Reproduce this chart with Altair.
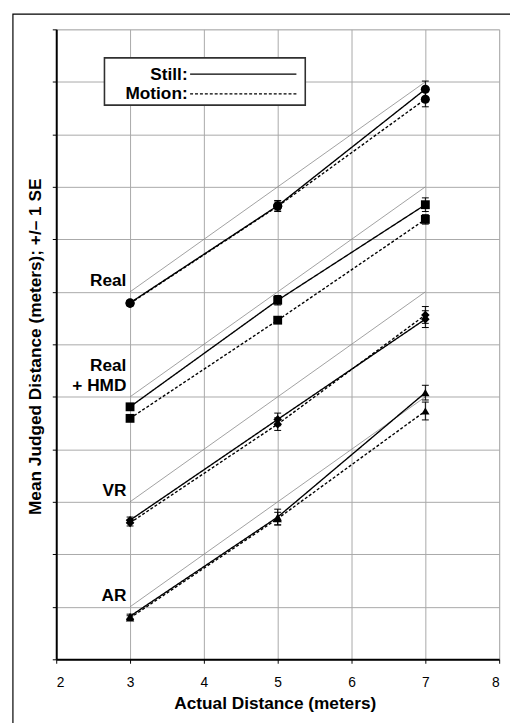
import altair as alt
import pandas as pd

# ---------------- data ----------------
environments = ["Real", "Real + HMD", "VR", "AR"]
group_offsets = [4, 2, 0, -2]          # vertical shift of each environment's set of lines (m)
actual_distances = [3, 5, 7]
conditions = ["Still", "Motion"]

real_still = [2.79, 4.64, 6.86]
real_motion = [2.78, 4.63, 6.67]
hmd_still = [2.81, 4.84, 6.66]
hmd_motion = [2.59, 4.46, 6.38]
vr_still = [2.65, 4.57, 6.48]
vr_motion = [2.60, 4.48, 6.56]
ar_still = [2.82, 4.71, 7.08]
ar_motion = [2.79, 4.68, 6.73]

real_still_se = [0.05, 0.10, 0.155]
real_motion_se = [0.05, 0.10, 0.145]
hmd_still_se = [0.05, 0.09, 0.13]
hmd_motion_se = [0.05, 0.06, 0.09]
vr_still_se = [0.06, 0.12, 0.16]
vr_motion_se = [0.06, 0.12, 0.16]
ar_still_se = [0.04, 0.15, 0.14]
ar_motion_se = [0.04, 0.12, 0.17]

group_labels = [["Real"], ["Real", "+ HMD"], ["VR"], ["AR"]]

means = {
    "Still": [real_still, hmd_still, vr_still, ar_still],
    "Motion": [real_motion, hmd_motion, vr_motion, ar_motion],
}
ses = {
    "Still": [real_still_se, hmd_still_se, vr_still_se, ar_still_se],
    "Motion": [real_motion_se, hmd_motion_se, vr_motion_se, ar_motion_se],
}

rows = []
for gi, (env, off) in enumerate(zip(environments, group_offsets)):
    for cond in conditions:
        for i, xv in enumerate(actual_distances):
            m = means[cond][gi][i]
            s = ses[cond][gi][i]
            rows.append({"env": env, "cond": cond, "x": xv,
                         "y": m + off, "lo": m - s + off, "hi": m + s + off})
df = pd.DataFrame(rows)

ref_rows = []
for env, off in zip(environments, group_offsets):
    for xv in (actual_distances[0], actual_distances[-1]):
        ref_rows.append({"env": env, "x": xv, "y": xv + off})
ref_df = pd.DataFrame(ref_rows)

lab_rows = []
for lines, off in zip(group_labels, group_offsets):
    n = len(lines)
    for k, t in enumerate(lines):
        lab_rows.append({"text": t, "x": 2.95,
                         "y": off + 3 + 0.12 + 0.375 * (n - 1 - k)})
lab_df = pd.DataFrame(lab_rows)

FONT = "Liberation Sans"
BOLD = 17.5


def X(field="x"):
    return alt.X(f"{field}:Q",
                 scale=alt.Scale(domain=[2, 8], nice=False, zero=False),
                 axis=alt.Axis(values=[2, 3, 4, 5, 6, 7, 8], title="Actual Distance (meters)",
                               format="d", grid=True, gridColor="#a8a8a8", gridWidth=1,
                               domainColor="black", domainWidth=2,
                               tickColor="black", tickSize=4, tickWidth=1,
                               labelFont=FONT, labelFontSize=14, labelColor="black",
                               labelPadding=13,
                               titleFont=FONT, titleFontSize=BOLD, titleFontWeight="bold",
                               titleColor="black", titleBaseline="alphabetic",
                               titleY=50, titleX=222))


def Y(field="y"):
    return alt.Y(f"{field}:Q",
                 scale=alt.Scale(domain=[0, 12], nice=False, zero=False),
                 axis=alt.Axis(values=list(range(13)), labels=False,
                               title="Mean Judged Distance (meters); +/\u2013 1 SE",
                               grid=True, gridColor="#a8a8a8", gridWidth=1,
                               domainColor="black", domainWidth=2,
                               tickColor="black", tickSize=4, tickWidth=1,
                               titleFont=FONT, titleFontSize=BOLD, titleFontWeight="bold",
                               titleColor="black", titleBaseline="alphabetic",
                               titleAngle=270, titleAlign="center",
                               titleX=-16, titleY=322))


one = pd.DataFrame({"a": [0]})

frame = alt.Chart(one).mark_rect(filled=False, stroke="black", strokeWidth=1.2).encode(
    x=alt.value(-44), y=alt.value(-15.5), x2=alt.value(480), y2=alt.value(730))

ref = alt.Chart(ref_df).mark_line(color="#888888", strokeWidth=0.8).encode(
    x=X(), y=Y(), detail="env:N")

lines = alt.Chart(df).mark_line(color="black", strokeWidth=1.4).encode(
    x=X(), y=Y(), detail="env:N",
    strokeDash=alt.StrokeDash("cond:N", scale=alt.Scale(domain=["Still", "Motion"],
                                                        range=[[1, 0], [3, 2]]), legend=None))

err = alt.Chart(df).mark_rule(color="black", strokeWidth=1).encode(
    x=X(), y=Y("lo"), y2=alt.Y2("hi"))
cap_hi = alt.Chart(df).mark_rule(color="black", strokeWidth=1, xOffset=-3.5, x2Offset=3.5).encode(
    x=X(), x2=alt.X2("x"), y=Y("hi"))
cap_lo = alt.Chart(df).mark_rule(color="black", strokeWidth=1, xOffset=-3.5, x2Offset=3.5).encode(
    x=X(), x2=alt.X2("x"), y=Y("lo"))

pts = alt.Chart(df).mark_point(filled=True, color="black", opacity=1, strokeWidth=0).encode(
    x=X(), y=Y(),
    shape=alt.Shape("env:N", scale=alt.Scale(domain=environments,
                                             range=["circle", "square", "diamond", "triangle-up"]),
                    legend=None),
    size=alt.Size("env:N", scale=alt.Scale(domain=environments, range=[85, 72, 110, 130]),
                  legend=None))

labels = alt.Chart(lab_df).mark_text(align="right", baseline="alphabetic", font=FONT,
                                     fontSize=BOLD, fontWeight="bold", color="black").encode(
    x=X(), y=Y(), text="text:N")

leg_box = alt.Chart(one).mark_rect(fill="white", stroke="#303030", strokeWidth=1.6).encode(
    x=alt.value(49), x2=alt.value(253), y=alt.value(29), y2=alt.value(77))
leg_t1 = alt.Chart(one).mark_text(text="Still:", align="right", baseline="alphabetic", font=FONT,
                                  fontSize=BOLD, fontWeight="bold", color="black").encode(
    x=alt.value(133.5), y=alt.value(51))
leg_t2 = alt.Chart(one).mark_text(text="Motion:", align="right", baseline="alphabetic", font=FONT,
                                  fontSize=BOLD, fontWeight="bold", color="black").encode(
    x=alt.value(133.5), y=alt.value(71))
leg_l1 = alt.Chart(one).mark_rule(color="black", strokeWidth=1.2).encode(
    x=alt.value(136), x2=alt.value(244), y=alt.value(45.5))
leg_l2 = alt.Chart(one).mark_rule(color="black", strokeWidth=1.2, strokeDash=[3, 2]).encode(
    x=alt.value(136), x2=alt.value(244), y=alt.value(65.5))

chart = alt.layer(
    ref, lines, err, cap_hi, cap_lo, pts, labels,
    leg_box, leg_t1, leg_t2, leg_l1, leg_l2, frame
).properties(
    width=450, height=640,
    padding={"left": 49, "top": 16, "right": 11, "bottom": 59},
    autosize=alt.AutoSizeParams(type="none"),
).configure_view(
    stroke="black", strokeWidth=1.2
).configure(background="white")

chart.save("out.html", embed_options={"renderer": "svg", "actions": False})
